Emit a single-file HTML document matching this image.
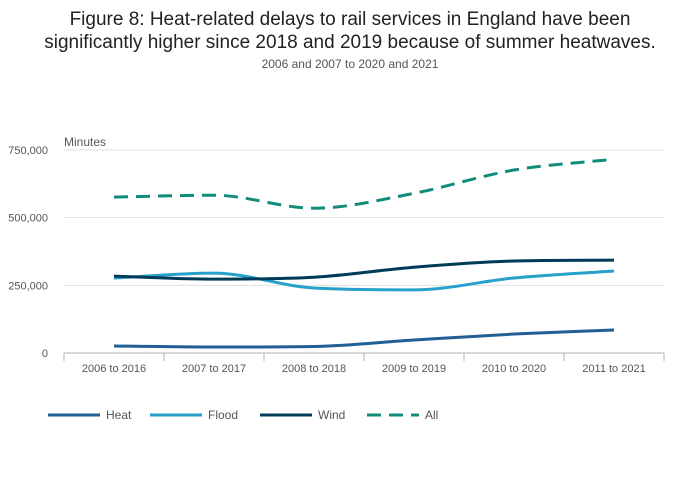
<!DOCTYPE html>
<html><head><meta charset="utf-8"><style>
body{margin:0;background:#fff;font-family:"Liberation Sans",sans-serif;}
#wrap{position:relative;width:700px;height:502px;overflow:hidden;}
.t{position:absolute;left:0;width:700px;text-align:center;color:#222;}
</style></head><body>
<div id="wrap">
<div class="t" style="top:8px;font-size:19px;line-height:23px;">Figure 8: Heat-related delays to rail services in England have been<br>significantly higher since 2018 and 2019 because of summer heatwaves.</div>
<div class="t" style="top:57px;font-size:12px;color:#555;">2006 and 2007 to 2020 and 2021</div>
<svg id="svg" width="700" height="502" style="position:absolute;left:0;top:0"></svg>
</div>
<script>
const categories=["2006 to 2016","2007 to 2017","2008 to 2018","2009 to 2019","2010 to 2020","2011 to 2021"];
const heat=[26000,22000,24000,48000,70000,85000];
const flood=[277000,295000,240000,233000,277000,303000];
const wind=[284000,273000,280000,317000,340000,343000];
const all=[576000,583000,535000,590000,676000,716000];
const yTicks=[0,250000,500000,750000];
const yTickLabels=["0","250,000","500,000","750,000"];
const seriesNames=["Heat","Flood","Wind","All"];
const NS="http://www.w3.org/2000/svg";
const svg=document.getElementById('svg');
const L=64,R=664,Y0=353,Y1=150;
function x(i){return L+(R-L)/categories.length*(i+0.5);}
function y(v){return Y0-(Y0-Y1)*v/750000;}
function mk(t,a,p){const e=document.createElementNS(NS,t);for(const k in a)e.setAttribute(k,a[k]);(p||svg).appendChild(e);return e;}
yTicks.forEach((v,i)=>{
 if(v>0){const g=mk('line',{x1:L,x2:R,y1:y(v),y2:y(v),stroke:'#e0e0e0','stroke-width':1});
 
 }
 const t=mk('text',{x:48,y:y(v)+4,'text-anchor':'end','font-size':11,fill:'#555'});t.textContent=yTickLabels[i];
 
 
});
const yt=mk('text',{x:64,y:146,'font-size':12,fill:'#555'});yt.textContent="Minutes";


const ax=mk('line',{x1:L,x2:R,y1:Y0,y2:Y0,stroke:'#b0b0b0'});


for(let i=0;i<=categories.length;i++){const tx=L+(R-L)/categories.length*i;mk('line',{x1:tx,x2:tx,y1:Y0,y2:Y0+8,stroke:'#b0b0b0'});}
categories.forEach((c,i)=>{const t=mk('text',{x:x(i),y:372,'text-anchor':'middle','font-size':11,fill:'#555'});t.textContent=c;
 
 });
function path(vals){
 const n=vals.length,px=vals.map((v,i)=>x(i)),py=vals.map(v=>y(v));
 const s=[];for(let i=0;i<n-1;i++)s.push((py[i+1]-py[i])/(px[i+1]-px[i]));
 const m=[];
 for(let i=0;i<n;i++){
  if(i==0)m.push(s[0]);else if(i==n-1)m.push(s[n-2]);
  else m.push(s[i-1]*s[i]<=0?0:(s[i-1]+s[i])/2);
 }
 for(let i=0;i<n-1;i++){if(s[i]==0){m[i]=0;m[i+1]=0;continue;}const a=m[i]/s[i],b=m[i+1]/s[i],h=a*a+b*b;if(h>9){const t=3/Math.sqrt(h);m[i]=t*a*s[i];m[i+1]=t*b*s[i];}}
 let d='M'+px[0]+','+py[0];
 for(let i=0;i<n-1;i++){const dx=(px[i+1]-px[i])/3;d+=' C'+(px[i]+dx)+','+(py[i]+m[i]*dx)+' '+(px[i+1]-dx)+','+(py[i+1]-m[i+1]*dx)+' '+px[i+1]+','+py[i+1];}
 return d;
}
const data=[heat,flood,wind,all];
const colors=["#206095","#27a0cc","#003c57","#118c7b"];
data.forEach((s,k)=>{const p=mk('path',{d:path(s),fill:'none',stroke:colors[k],'stroke-width':3,'stroke-dasharray':k==3?'14 8':'none'});
 
 });
const lx=[48,150,260,367];
seriesNames.forEach((n,k)=>{
 const g=mk('g',{});
 
 
 mk('line',{x1:lx[k],x2:lx[k]+52,y1:415,y2:415,stroke:colors[k],'stroke-width':3,'stroke-dasharray':k==3?'14 8':'none'},g);
 const t=mk('text',{x:lx[k]+58,y:419,'font-size':12,fill:'#555'},g);t.textContent=n;
});
</script>
</body></html>
